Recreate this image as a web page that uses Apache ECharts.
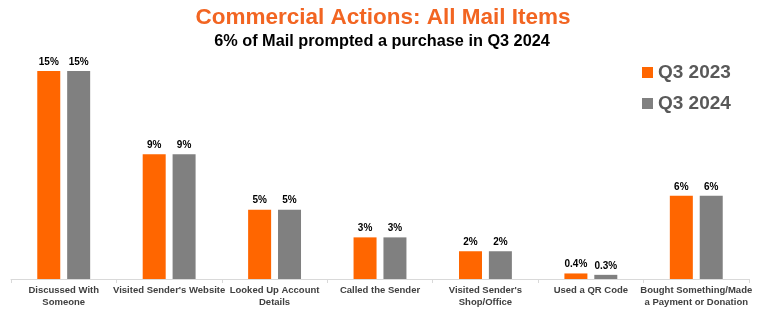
<!DOCTYPE html>
<html>
<head>
<meta charset="utf-8">
<script src="https://cdn.jsdelivr.net/npm/echarts@6/dist/echarts.min.js"></script>
<style>
  html, body { margin: 0; padding: 0; background: #fff; }
  #chart { width: 782px; height: 332px; }
</style>
</head>
<body>
<div id="chart"></div>
<script>
const categories = [
  'Discussed With\nSomeone',
  "Visited Sender's Website",
  'Looked Up Account\nDetails',
  'Called the Sender',
  "Visited Sender's\nShop/Office",
  'Used a QR Code',
  'Bought Something/Made\na Payment or Donation'
];
const q3_2023 = [15, 9, 5, 3, 2, 0.4, 6];
const q3_2024 = [15, 9, 5, 3, 2, 0.3, 6];
const seriesNames = ['Q3 2023', 'Q3 2024'];

const ORANGE = '#FF6600';
const GREY = '#808080';
const SANS = '"Liberation Sans", Arial, sans-serif';

const labelFmt = p => p.value + '%';

const chart = echarts.init(document.getElementById('chart'), null, { renderer: 'canvas' });
chart.setOption({
  animation: false,
  title: [
    {
      text: 'Commercial Actions: All Mail Items',
      left: 378, top: 1, textAlign: 'center',
      textStyle: { fontFamily: SANS, fontWeight: 'bold', fontSize: 22.5, color: '#F26522' }
    },
    {
      text: '6% of Mail prompted a purchase in Q3 2024',
      left: 377, top: 29, textAlign: 'center',
      textStyle: { fontFamily: SANS, fontWeight: 'bold', fontSize: 16.3, color: '#000' }
    }
  ],
  legend: {
    orient: 'vertical',
    left: 637, top: 58,
    itemWidth: 11, itemHeight: 11, itemGap: 12,
    icon: 'rect',
    data: seriesNames,
    textStyle: { fontFamily: SANS, fontWeight: 'bold', fontSize: 19, color: '#595959' }
  },
  grid: { left: 11, right: 33, top: 57, bottom: 53, containLabel: false },
  xAxis: {
    type: 'category',
    data: categories,
    axisLine: { lineStyle: { color: '#D9D9D9', width: 1 } },
    axisTick: { show: true, length: 4, lineStyle: { color: '#D9D9D9' } },
    axisLabel: {
      interval: 0, margin: 5,
      fontFamily: SANS, fontWeight: 'bold', fontSize: 9.5, color: '#404040',
      lineHeight: 12
    }
  },
  yAxis: {
    type: 'value', min: 0, max: 16,
    show: false, splitLine: { show: false }
  },
  series: [
    {
      name: seriesNames[0], type: 'bar', data: q3_2023,
      barWidth: 23, barGap: '30%',
      itemStyle: { color: ORANGE },
      label: { show: true, position: 'top', distance: 4, formatter: labelFmt,
        fontFamily: SANS, fontWeight: 'bold', fontSize: 10, color: '#000' }
    },
    {
      name: seriesNames[1], type: 'bar', data: q3_2024,
      barWidth: 23, barGap: '30%',
      itemStyle: { color: GREY },
      label: { show: true, position: 'top', distance: 4, formatter: labelFmt,
        fontFamily: SANS, fontWeight: 'bold', fontSize: 10, color: '#000' }
    }
  ]
});
</script>
</body>
</html>
